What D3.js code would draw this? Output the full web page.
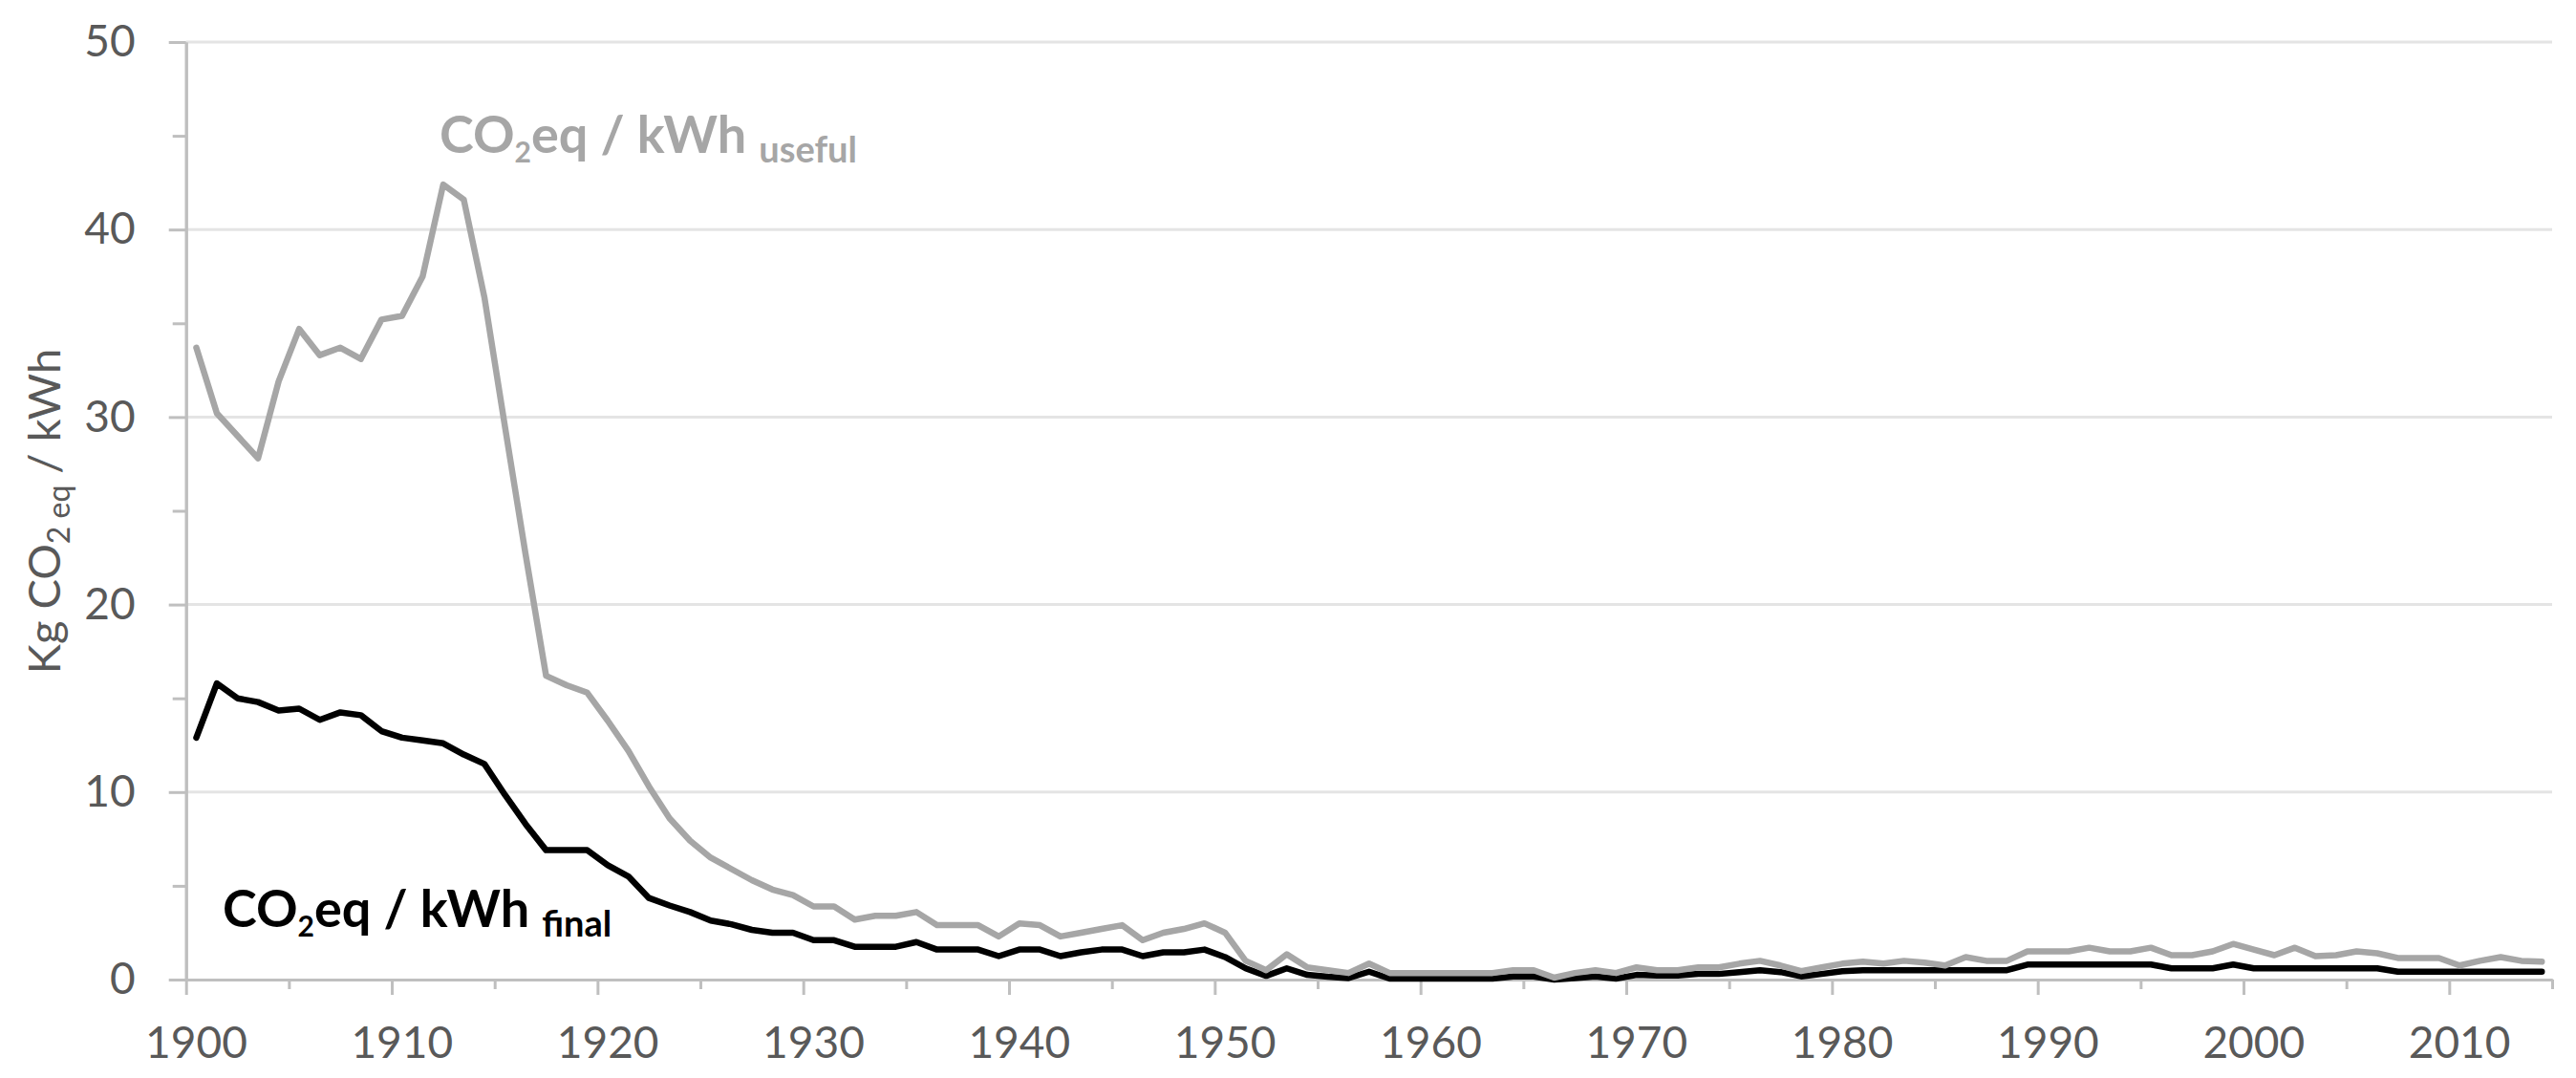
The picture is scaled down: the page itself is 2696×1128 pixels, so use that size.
<!DOCTYPE html>
<html>
<head>
<meta charset="utf-8">
<script src="https://cdn.jsdelivr.net/npm/d3@7"></script>
<style>
  html, body { margin: 0; padding: 0; background: #ffffff; }
  svg { display: block; }
  text { font-family: Lato, "Noto Sans", sans-serif; }
</style>
</head>
<body>
<svg id="chart" width="2696" height="1128"></svg>
<script>
// ---- data ----
const years = d3.range(1900, 2015);
const labelYears = [1900, 1910, 1920, 1930, 1940, 1950, 1960, 1970, 1980, 1990, 2000, 2010];
const majorYTicks = [0, 10, 20, 30, 40, 50];
const minorYTicks = [5, 15, 25, 35, 45];
const majorXTicks = [1900, 1910, 1920, 1930, 1940, 1950, 1960, 1970, 1980, 1990, 2000, 2010];
const minorXTicks = [1905, 1915, 1925, 1935, 1945, 1955, 1965, 1975, 1985, 1995, 2005, 2015];

const usefulValues = [
  33.7, 30.2, 29.0, 27.8, 31.9, 34.7, 33.3, 33.7, 33.1, 35.2,   // 1900-1909
  35.4, 37.5, 42.4, 41.6, 36.4, 29.5, 22.7, 16.2, 15.7, 15.3,   // 1910-1919
  13.8, 12.2, 10.3, 8.6, 7.4, 6.5, 5.9, 5.3, 4.8, 4.5,          // 1920-1929
  3.9, 3.9, 3.2, 3.4, 3.4, 3.6, 2.9, 2.9, 2.9, 2.3,             // 1930-1939
  3.0, 2.9, 2.3, 2.5, 2.7, 2.9, 2.1, 2.5, 2.7, 3.0,             // 1940-1949
  2.5, 1.0, 0.5, 1.35, 0.65, 0.5, 0.35, 0.85, 0.35, 0.35,       // 1950-1959
  0.35, 0.35, 0.35, 0.35, 0.5, 0.5, 0.1, 0.35, 0.5, 0.35,       // 1960-1969
  0.65, 0.5, 0.5, 0.65, 0.65, 0.85, 1.0, 0.75, 0.45, 0.65,      // 1970-1979
  0.85, 0.95, 0.85, 1.0, 0.9, 0.75, 1.2, 1.0, 1.0, 1.5,         // 1980-1989
  1.5, 1.5, 1.7, 1.5, 1.5, 1.7, 1.3, 1.3, 1.5, 1.9,             // 1990-1999
  1.6, 1.3, 1.7, 1.25, 1.3, 1.5, 1.4, 1.15, 1.15, 1.15,         // 2000-2009
  0.75, 1.0, 1.2, 1.0, 0.95                                     // 2010-2014
];

const finalValues = [
  12.9, 15.8, 15.0, 14.8, 14.35, 14.45, 13.85, 14.25, 14.1, 13.25, // 1900-1909
  12.9, 12.75, 12.6, 12.0, 11.5, 9.85, 8.3, 6.9, 6.9, 6.9,         // 1910-1919
  6.1, 5.5, 4.35, 3.95, 3.6, 3.15, 2.95, 2.65, 2.5, 2.5,           // 1920-1929
  2.1, 2.1, 1.75, 1.75, 1.75, 2.0, 1.6, 1.6, 1.6, 1.25,            // 1930-1939
  1.6, 1.6, 1.25, 1.45, 1.6, 1.6, 1.25, 1.45, 1.45, 1.6,           // 1940-1949
  1.2, 0.6, 0.2, 0.6, 0.25, 0.15, 0.08, 0.42, 0.05, 0.05,          // 1950-1959
  0.05, 0.05, 0.05, 0.05, 0.17, 0.17, 0.0, 0.08, 0.17, 0.05,       // 1960-1969
  0.25, 0.22, 0.22, 0.3, 0.3, 0.4, 0.5, 0.4, 0.17, 0.3,            // 1970-1979
  0.45, 0.5, 0.5, 0.5, 0.5, 0.5, 0.5, 0.5, 0.5, 0.8,               // 1980-1989
  0.8, 0.8, 0.8, 0.8, 0.8, 0.8, 0.6, 0.6, 0.6, 0.8,                // 1990-1999
  0.6, 0.6, 0.6, 0.6, 0.6, 0.6, 0.6, 0.42, 0.42, 0.42,             // 2000-2009
  0.42, 0.42, 0.42, 0.42, 0.42                                     // 2010-2014
];

// ---- layout ----
const svg = d3.select("#chart");
const plotLeft = 194.7, plotRight = 2671, plotTop = 44, plotBottom = 1025;
const axisColor = "#bfbfbf", gridColor = "#e4e4e4", textColor = "#595959";

const xEdge = d3.scaleLinear().domain([1900, 2015]).range([plotLeft, plotRight]);
const xBand = d3.scaleBand().domain(years).range([plotLeft, plotRight]).padding(0);
const yScale = d3.scaleLinear().domain([0, 50]).range([plotBottom, plotTop]);
const xc = yr => xBand(yr) + xBand.bandwidth() / 2;

// gridlines
svg.append("g").selectAll("line")
  .data(majorYTicks.filter(d => d > 0))
  .join("line")
  .attr("x1", plotLeft).attr("x2", plotRight)
  .attr("y1", d => yScale(d)).attr("y2", d => yScale(d))
  .attr("stroke", gridColor).attr("stroke-width", 3);

function styleAxis(g) {
  g.selectAll("path").attr("stroke", axisColor).attr("stroke-width", 3);
  g.selectAll("line").attr("stroke", axisColor).attr("stroke-width", 3);
  g.selectAll("text").attr("fill", textColor).attr("font-size", 46)
    .attr("font-family", "Lato, 'Noto Sans', sans-serif");
}

// y axis: minor ticks, major ticks, labels
svg.append("g").attr("transform", `translate(${plotLeft},0)`)
  .call(d3.axisLeft(yScale).tickValues(minorYTicks).tickSize(14).tickSizeOuter(0).tickFormat(""))
  .call(styleAxis);
svg.append("g").attr("transform", `translate(${plotLeft},0)`)
  .call(d3.axisLeft(yScale).tickValues(majorYTicks).tickSize(18).tickSizeOuter(0).tickFormat(""))
  .call(styleAxis);
svg.append("g").attr("transform", `translate(${plotLeft},0)`)
  .call(d3.axisLeft(yScale).tickValues(majorYTicks).tickSize(0).tickPadding(53).tickFormat(d3.format("d")))
  .call(g => g.select(".domain").remove())
  .call(styleAxis);

// x axis: minor ticks, major ticks, labels
svg.append("g").attr("transform", `translate(0,${plotBottom})`)
  .call(d3.axisBottom(xEdge).tickValues(minorXTicks).tickSize(10).tickSizeOuter(0).tickFormat(""))
  .call(styleAxis);
svg.append("g").attr("transform", `translate(0,${plotBottom})`)
  .call(d3.axisBottom(xEdge).tickValues(majorXTicks).tickSize(16).tickSizeOuter(0).tickFormat(""))
  .call(styleAxis);
svg.append("g").attr("transform", `translate(0,${plotBottom})`)
  .call(d3.axisBottom(xBand).tickValues(labelYears).tickSize(0).tickPadding(49).tickFormat(d3.format("d")))
  .call(g => g.select(".domain").remove())
  .call(styleAxis);

// y axis title
const yt = svg.append("text")
  .attr("transform", "translate(63,535) rotate(-90)")
  .attr("text-anchor", "middle")
  .attr("fill", textColor)
  .attr("font-size", 47);
yt.append("tspan").text("Kg CO");
yt.append("tspan").attr("font-size", 32).attr("dy", 10).text("2 eq");
yt.append("tspan").attr("dy", -10).text(" / kWh");

// series lines
const line = d3.line()
  .x((d, i) => xc(years[i]))
  .y(d => yScale(d));

svg.append("path")
  .datum(finalValues)
  .attr("d", line)
  .attr("fill", "none")
  .attr("stroke", "#000000")
  .attr("stroke-width", 6.5)
  .attr("stroke-linejoin", "round")
  .attr("stroke-linecap", "round");

svg.append("path")
  .datum(usefulValues)
  .attr("d", line)
  .attr("fill", "none")
  .attr("stroke", "#a6a6a6")
  .attr("stroke-width", 6.5)
  .attr("stroke-linejoin", "round")
  .attr("stroke-linecap", "round");

// annotations
function annot(x, yb, color, sub) {
  const t = svg.append("text")
    .attr("x", x).attr("y", yb)
    .attr("fill", color)
    .attr("font-weight", "bold")
    .attr("font-size", 54);
  t.append("tspan").text("CO");
  t.append("tspan").attr("font-size", 30).attr("dy", 10).text("2");
  t.append("tspan").attr("dy", -10).text("eq / kWh ");
  t.append("tspan").attr("font-size", 38).attr("dy", 10).text(sub);
}
annot(460, 160, "#a6a6a6", "useful");
annot(233, 970, "#000000", "final");
</script>
</body>
</html>
